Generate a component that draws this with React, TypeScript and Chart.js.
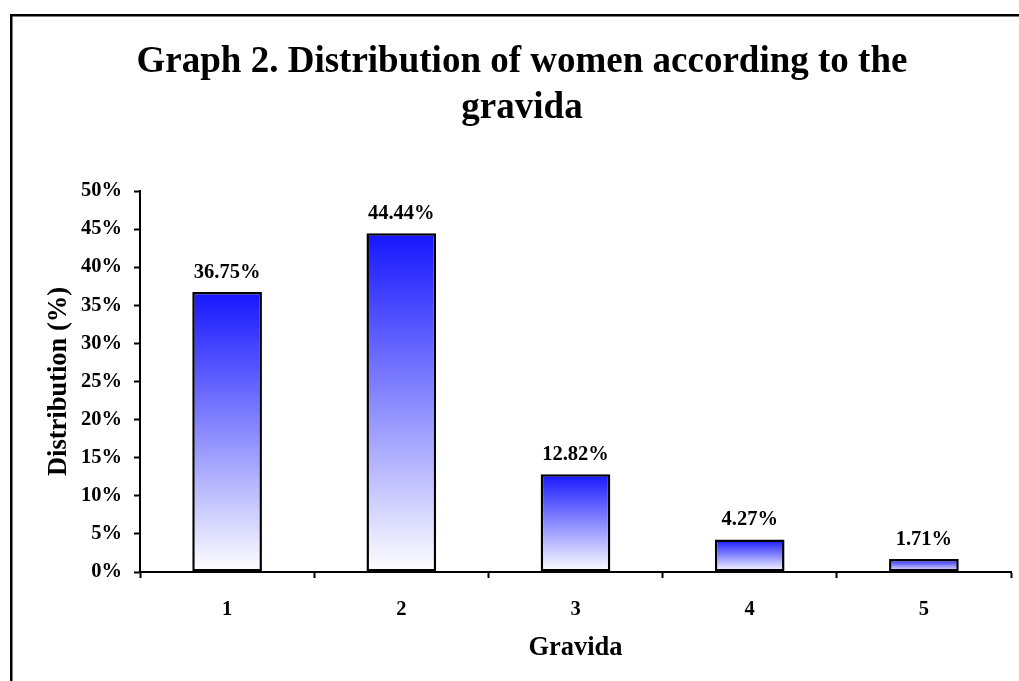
import React, { useEffect, useRef } from "react";
import { Chart, registerables } from "chart.js";

Chart.register(...registerables);

const categories: string[] = ["1", "2", "3", "4", "5"];
const distribution: number[] = [36.75, 44.44, 12.82, 4.27, 1.71];
const yTicks: number[] = [0, 5, 10, 15, 20, 25, 30, 35, 40, 45, 50];
const titleLines: string[] = ["Graph 2. Distribution of women according to the", "gravida"];
const xTitle = "Gravida";
const yTitle = "Distribution (%)";

const FONT = "'Liberation Serif', 'Times New Roman', serif";

const framePlugin = {
  id: "frame",
  beforeDraw(chart: any) {
    const ctx = chart.ctx;
    ctx.save();
    ctx.fillStyle = "#ffffff";
    ctx.fillRect(0, 0, chart.width, chart.height);
    ctx.fillStyle = "#000000";
    ctx.fillRect(10, 14, chart.width - 10, 2.5);
    ctx.fillRect(10, 14, 2.5, chart.height - 14);
    ctx.restore();
  },
};

const dataLabelPlugin = {
  id: "dataLabels",
  afterDatasetsDraw(chart: any) {
    const ctx = chart.ctx;
    const meta = chart.getDatasetMeta(0);
    ctx.save();
    ctx.fillStyle = "#000000";
    ctx.font = `bold 20.5px ${FONT}`;
    ctx.textAlign = "center";
    ctx.textBaseline = "alphabetic";
    meta.data.forEach((el: any, i: number) => {
      const v = distribution[i];
      ctx.fillText(`${v.toFixed(2)}%`, el.x, el.y - 14);
    });
    ctx.restore();
  },
};

export default function App() {
  const ref = useRef<HTMLCanvasElement>(null);

  useEffect(() => {
    if (!ref.current) return;
    const chart = new Chart(ref.current, {
      type: "bar",
      data: {
        labels: categories,
        datasets: [
          {
            data: distribution,
            backgroundColor: (ctx: any) => {
              const c = ctx.chart;
              const { chartArea, scales } = c;
              if (!chartArea || !scales.y || ctx.type !== "data") return "#4040ff";
              const v = ctx.raw as number;
              const top = scales.y.getPixelForValue(v);
              const bottom = scales.y.getPixelForValue(0);
              const g = c.ctx.createLinearGradient(0, top, 0, bottom);
              g.addColorStop(0, "rgb(22,22,255)");
              g.addColorStop(1, "rgb(255,255,255)");
              return g;
            },
            borderColor: "#000000",
            borderWidth: 2.5,
            borderSkipped: false,
            barPercentage: 0.4,
            categoryPercentage: 1,
          },
        ],
      },
      options: {
        responsive: false,
        animation: false,
        layout: { padding: { left: 33, right: 8, top: 0, bottom: 0 } },
        plugins: {
          legend: { display: false },
          tooltip: { enabled: false },
          title: {
            display: true,
            text: titleLines,
            color: "#000000",
            font: { family: FONT, size: 37, weight: "bold", lineHeight: 1.25 },
            padding: { top: 39, bottom: 59.5 },
          },
        },
        scales: {
          x: {
            offset: true,
            afterFit: (s: any) => {
              s.height = 109;
            },
            grid: {
              offset: true,
              drawOnChartArea: false,
              drawTicks: true,
              tickLength: 6,
              tickColor: "#000000",
              tickWidth: 2,
            },
            border: { display: true, color: "#000000", width: 2 },
            ticks: {
              color: "#000000",
              font: { family: FONT, size: 20.5, weight: "bold" },
              padding: 19,
              maxRotation: 0,
            },
            title: {
              display: true,
              text: xTitle,
              color: "#000000",
              font: { family: FONT, size: 26.5, weight: "bold", lineHeight: 1.2 },
              padding: { top: 0, bottom: 17 },
            },
          },
          y: {
            min: yTicks[0],
            max: yTicks[yTicks.length - 1],
            afterFit: (s: any) => {
              s.width = 107;
            },
            afterBuildTicks: (s: any) => {
              s.ticks = yTicks.map((v) => ({ value: v }));
            },
            grid: {
              drawOnChartArea: false,
              drawTicks: true,
              tickLength: 6,
              tickColor: "#000000",
              tickWidth: 2,
            },
            border: { display: true, color: "#000000", width: 2 },
            ticks: {
              color: "#000000",
              font: { family: FONT, size: 20.5, weight: "bold" },
              padding: 12,
              callback: (v: any) => `${v}%`,
            },
            title: {
              display: true,
              text: yTitle,
              color: "#000000",
              font: { family: FONT, size: 26.5, weight: "bold", lineHeight: 1.2 },
              padding: { top: 10, bottom: 0 },
            },
          },
        },
      },
      plugins: [framePlugin, dataLabelPlugin],
    });
    return () => chart.destroy();
  }, []);

  return (
    <div style={{ position: "absolute", left: 0, top: 0, width: 1019, height: 681 }}>
      <canvas ref={ref} width={1019} height={681} style={{ display: "block" }} />
    </div>
  );
}
